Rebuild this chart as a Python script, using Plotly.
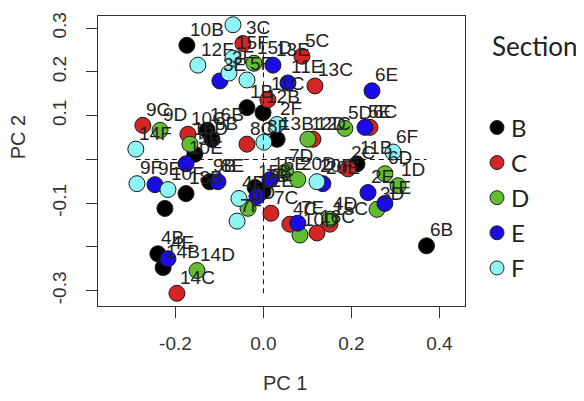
import plotly.graph_objects as go

# ---- data (PC1, PC2 scores) ----
sections = ["B", "C", "D", "E", "F"]
colors = ["#000000", "#D42424", "#62BE30", "#1A0CE6", "#8EF4F4"]

b_x = [-0.174, -0.0375, -0.001, -0.128, -0.117, -0.156, -0.122, -0.176, -0.224, 0.031, -0.001, -0.019, 0.2125, 0.3705, -0.240, -0.228]
b_y = [0.261, 0.1185, 0.107, 0.067, 0.046, 0.012, -0.051, -0.078, -0.112, 0.046, -0.073, -0.064, -0.010, -0.1975, -0.2156, -0.247]
b_lab = ["10B", "1B", "12B", "16B", "8B", "5B", "9B", "18B", "", "13B", "7B", "15B", "11B", "6B", "4B", "14B"]

c_x = [-0.0466, 0.0875, 0.117, 0.010, -0.274, -0.1716, -0.0375, 0.242, 0.1125, 0.192, 0.017, 0.060, 0.151, 0.1216, -0.1966]
c_y = [0.265, 0.236, 0.168, 0.1366, 0.078, 0.0576, 0.035, 0.0734, 0.0463, -0.0214, -0.123, -0.148, -0.148, -0.168, -0.306]
c_lab = ["3C", "5C", "13C", "11C", "9C", "10C", "8C", "6C", "12C", "2C", "7C", "4C", "15C", "16C", "14C"]

d_x = [-0.0216, -0.235, -0.167, 0.185, 0.101, 0.051, 0.078, 0.276, 0.3057, 0.258, -0.035, 0.151, 0.083, -0.151]
d_y = [0.220, 0.0666, 0.035, 0.071, 0.0463, -0.028, -0.046, -0.0327, -0.060, -0.114, -0.1117, -0.1366, -0.1727, -0.254]
d_lab = ["15D", "9D", "16D", "5D", "12D", "7D", "20D", "6D", "1D", "3D", "8D", "4D", "10D", "14D"]

e_x = [0.0216, -0.099, 0.0557, 0.2466, 0.2307, -0.176, -0.2466, -0.1034, 0.0148, -0.0148, 0.135, 0.2375, 0.276, 0.078, -0.217]
e_y = [0.2156, 0.1795, 0.175, 0.157, 0.0734, -0.010, -0.0576, -0.0508, -0.0463, -0.0847, -0.0553, -0.0756, -0.1005, -0.1456, -0.2269]
e_lab = ["13E", "3E", "11E", "6E", "5E", "10E", "9E", "8E", "15E", "12E", "20E", "2E", "1E", "7E", "4E"]

f_x = [-0.0693, -0.149, -0.0693, -0.0784, -0.0375, 0.0307, 0.001, -0.290, -0.2875, -0.217, -0.0557, -0.060, 0.1216, 0.2943]
f_y = [0.308, 0.2156, 0.2314, 0.1975, 0.1817, 0.080, 0.0395, 0.0237, -0.0553, -0.0688, -0.0892, -0.141, -0.0508, 0.017]
f_lab = ["1F", "12F", "15F", "3F", "5F", "2F", "8F", "14F", "9F", "10F", "4F", "7F", "20F", "6F"]

x_ticks = [-0.2, 0.0, 0.2, 0.4]
x_tick_text = ["-0.2", "0.0", "0.2", "0.4"]
y_ticks = [-0.3, -0.2, -0.1, 0.0, 0.1, 0.2, 0.3]
y_tick_text = ["-0.3", "", "-0.1", "", "0.1", "0.2", "0.3"]

series = [(b_x, b_y, b_lab), (c_x, c_y, c_lab), (d_x, d_y, d_lab), (e_x, e_y, e_lab), (f_x, f_y, f_lab)]

X_RANGE = [-0.376, 0.458]
Y_RANGE = [-0.335, 0.328]
FONT = "Liberation Sans"

fig = go.Figure()
for (xs, ys, labs), name, col in zip(series, sections, colors):
    fig.add_trace(go.Scatter(
        x=xs, y=ys, mode="markers", name=name, showlegend=False,
        marker=dict(size=16, color=col, line=dict(color="#1a1a1a", width=1)),
    ))

# point labels (upper right of each point, clipped to plot region)
for (xs, ys, labs) in series:
    for xv, yv, lb in zip(xs, ys, labs):
        if not lb or yv + 0.038 > Y_RANGE[1]:
            continue
        fig.add_annotation(x=xv, y=yv, text=lb, showarrow=False,
                           xanchor="left", yanchor="middle", yshift=16, xshift=1,
                           font=dict(family=FONT, size=19, color="#222"))

all_x = b_x + c_x + d_x + e_x + f_x
all_y = b_y + c_y + d_y + e_y + f_y
fig.add_shape(type="line", x0=0, x1=0, y0=min(all_y), y1=max(all_y), layer="above",
              line=dict(color="#111", width=1, dash="5px,4px"))
fig.add_shape(type="line", x0=min(all_x), x1=max(all_x), y0=0, y1=0, layer="above",
              line=dict(color="#111", width=1, dash="5px,4px"))

# page body has an 8px margin: figure is shrunk so the plot box lands where the reference has it
BODY = 8
W, H = 584 - BODY, 401 - BODY
PL, PR, PT, PB = 98, 465, 12, 306   # plot box in window pixels

def px2paper_x(px):
    return (px - PL) / (PR - PL)
def px2paper_y(py):
    return (PB - py) / (PB - PT)

fig.add_annotation(xref="paper", yref="paper", x=px2paper_x(490), y=px2paper_y(42),
                   text="Section", showarrow=False, xanchor="left", yanchor="middle",
                   font=dict(family="Lato", size=26, color="#222"))
for i, (name, col) in enumerate(zip(sections, colors)):
    py = 125 + i * 35.6
    fig.add_shape(type="circle", xref="paper", yref="paper",
                  xsizemode="pixel", ysizemode="pixel",
                  xanchor=px2paper_x(497), yanchor=px2paper_y(py),
                  x0=-7, x1=7, y0=-7, y1=7,
                  fillcolor=col, line=dict(color="#222", width=1))
    fig.add_annotation(xref="paper", yref="paper", x=px2paper_x(509), y=px2paper_y(py),
                       text=name, showarrow=False, xanchor="left", yanchor="middle",
                       font=dict(family="Lato", size=24, color="#222"))

# axis titles
fig.add_annotation(xref="paper", yref="paper", x=px2paper_x(285), y=px2paper_y(384),
                   text="PC 1", showarrow=False, xanchor="center", yanchor="middle",
                   font=dict(family=FONT, size=20, color="#333"))
fig.add_annotation(xref="paper", yref="paper", x=px2paper_x(18), y=px2paper_y(135),
                   text="PC 2", showarrow=False, xanchor="center", yanchor="middle", textangle=-90,
                   font=dict(family=FONT, size=20, color="#333"))

axis_common = dict(showgrid=False, zeroline=False, showline=True, mirror=True,
                   linecolor="#333", linewidth=1, ticks="outside", ticklen=11,
                   tickcolor="#333", tickwidth=1,
                   tickfont=dict(family=FONT, size=19, color="#333"))

fig.update_xaxes(range=X_RANGE, tickvals=x_ticks, ticktext=x_tick_text,
                 ticklabelstandoff=9, **axis_common)
fig.update_yaxes(range=Y_RANGE, tickvals=y_ticks, ticktext=y_tick_text, tickangle=-90,
                 ticklabelstandoff=12, **axis_common)

fig.update_layout(width=W, height=H,
                  margin=dict(l=PL - BODY, r=584 - PR, t=PT - BODY, b=401 - PB),
                  plot_bgcolor="white", paper_bgcolor="white", showlegend=False)

fig.write_html("out.html")
